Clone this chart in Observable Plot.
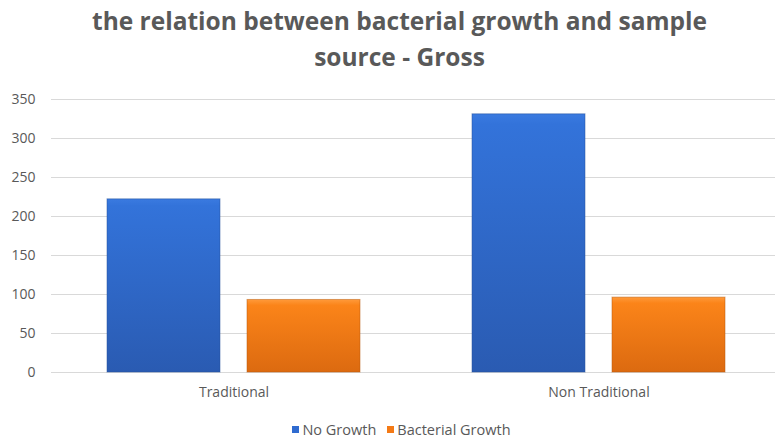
<!DOCTYPE html>
<html><head><meta charset="utf-8">
<script src="https://cdn.jsdelivr.net/npm/d3@7"></script>
<script src="https://cdn.jsdelivr.net/npm/@observablehq/plot@0.6"></script>
<style>
html,body{margin:0;padding:0;background:#fff;overflow:hidden;}
#title{height:82px;box-sizing:border-box;padding-top:3px;padding-left:24px;text-align:center;color:#595959;font-family:"Open Sans",sans-serif;font-weight:bold;font-size:24.5px;line-height:36px;}
#legend{display:flex;justify-content:center;align-items:center;gap:11px;margin-top:8px;padding-left:28px;font-family:"Open Sans",sans-serif;font-size:14.5px;color:#595959;}
#legend .item{display:flex;align-items:center;gap:3px;}
#legend .sw{width:7px;height:7px;display:inline-block;}
</style></head><body>
<div id="title">the relation between bacterial growth and sample<br>source - Gross</div>
<div id="chart"></div>
<div id="legend"></div>
<script>
const categories = ["Traditional", "Non Traditional"];
const series = ["No Growth", "Bacterial Growth"];
const noGrowth = [222, 331];
const bacterialGrowth = [93, 96];
const yTicks = [0, 50, 100, 150, 200, 250, 300, 350];
const seriesColors = ["#2f6bd0", "#f47a16"];
const seriesGradients = ["url(#gBlue)", "url(#gOrange)"];

const data = categories.flatMap((c, i) => [
  {category: c, series: series[0], value: noGrowth[i]},
  {category: c, series: series[1], value: bacterialGrowth[i]}
]);

const plot = Plot.plot({
  width: 775,
  height: 330,
  marginTop: 17,
  marginBottom: 40,
  marginLeft: 51,
  marginRight: -6,
  style: {fontFamily: "'Open Sans', sans-serif", fontSize: "14px", color: "#595959", background: "white"},
  fx: {domain: categories, padding: 0, label: null},
  x: {domain: series, paddingInner: 0.193, paddingOuter: 0.4, axis: null},
  y: {domain: [0, 350], label: null},
  color: {type: "identity"},
  marks: [
    Plot.gridY(yTicks, {stroke: "#d9d9d9", strokeOpacity: 1, strokeWidth: 1}),
    Plot.axisY(yTicks, {tickSize: 0, tickPadding: 16, label: null, fill: "#595959"}),
    Plot.axisFx({anchor: "bottom", tickSize: 0, tickPadding: 15, label: null, fill: "#595959"}),
    Plot.barY(data, {
      fx: "category", x: "series", y: "value",
      fill: d => seriesGradients[series.indexOf(d.series)],
      stroke: d => series.indexOf(d.series) === 0 ? "#24509c" : "#b85a0c",
      strokeOpacity: 0.5, strokeWidth: 1
    })
  ]
});

d3.select(plot).insert("defs", ":first-child").html(`
  <linearGradient id="gBlue" x1="0" y1="0" x2="0" y2="1">
    <stop offset="0" stop-color="#3a7ae0"/>
    <stop offset="0.04" stop-color="#3373da"/>
    <stop offset="1" stop-color="#2a5bb2"/>
  </linearGradient>
  <linearGradient id="gOrange" x1="0" y1="0" x2="0" y2="1">
    <stop offset="0" stop-color="#ff9a3a"/>
    <stop offset="0.08" stop-color="#fb8419"/>
    <stop offset="1" stop-color="#dc6a10"/>
  </linearGradient>`);

document.getElementById("chart").appendChild(plot);

const legend = d3.select("#legend");
series.forEach((s, i) => {
  const item = legend.append("span").attr("class", "item");
  item.append("span").attr("class", "sw").style("background", seriesColors[i]);
  item.append("span").text(s);
});
</script>
</body></html>
